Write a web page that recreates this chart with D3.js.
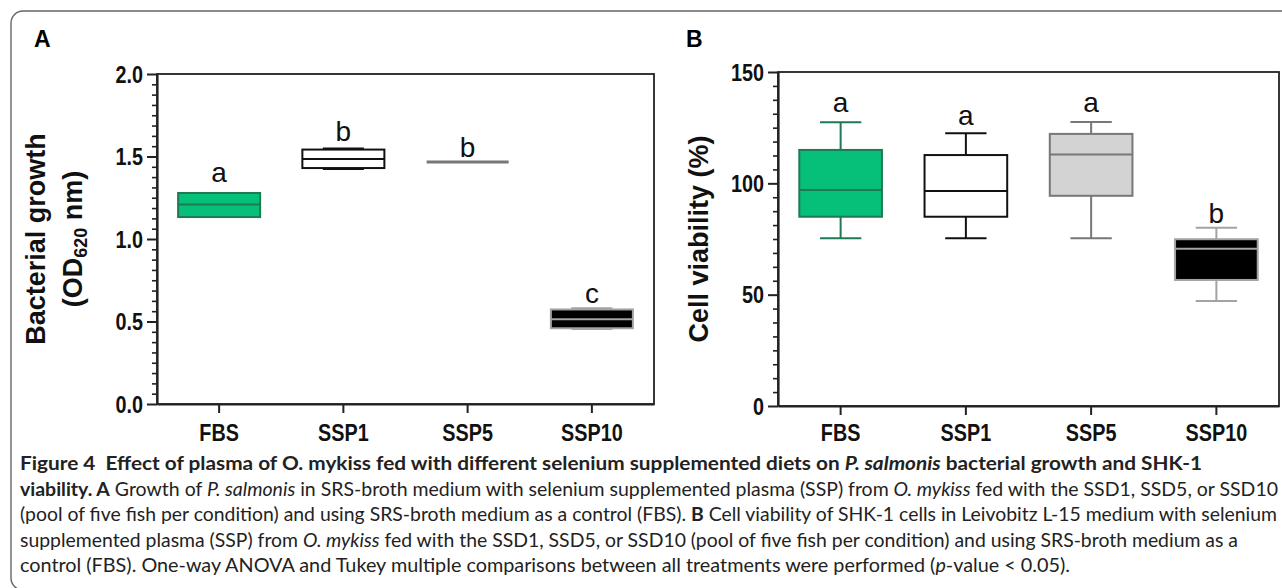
<!DOCTYPE html>
<html>
<head>
<meta charset="utf-8">
<script src="https://d3js.org/d3.v7.min.js"></script>
<style>
  body { margin: 0; background: #fff; }
  svg { display: block; }
  .tick text { font-family: "Liberation Sans", Arial, sans-serif; font-weight: bold; font-size: 23px; fill: #111; }
  .cap { font-family: Lato, "Open Sans", sans-serif; font-size: 19px; fill: #222; white-space: pre; }
</style>
</head>
<body>
<div id="fig"></div>
<script>
// groups on the x axis, same for both panels
var categories = ["FBS", "SSP1", "SSP5", "SSP10"];

// panel A - bacterial growth, OD620
var growthTicks = [0, 0.5, 1.0, 1.5, 2.0];
var growthMin = [1.133, 1.425, 1.467, 0.455];
var growthQ1  = [1.133, 1.430, 1.467, 0.459];
var growthMed = [1.209, 1.485, 1.467, 0.513];
var growthQ3  = [1.279, 1.542, 1.467, 0.573];
var growthMax = [1.279, 1.548, 1.467, 0.580];
var growthLetters  = ["a", "b", "b", "c"];
var growthLetterAt = [1.345, 1.594, 1.497, 0.612];

// panel B - cell viability %
var viabTicks = [0, 50, 100, 150];
var viabMin = [75.3, 75.3, 75.3, 47.2];
var viabQ1  = [85.0, 85.0, 94.4, 56.6];
var viabMed = [97.0, 96.6, 113.0, 70.6];
var viabQ3  = [115.0, 112.7, 122.2, 74.9];
var viabMax = [127.4, 122.5, 127.5, 80.1];
var viabLetters  = ["a", "a", "a", "b"];
var viabLetterAt = [132.0, 126.2, 132.2, 82.3];

var fills   = ["#06bf78", "#ffffff", "#d3d3d3", "#000000"];
var strokes = ["#1d7a52", "#111111", "#777777", "#a3a3a3"];

// the axis font in the original is a narrow bold, squeeze the regular one
var narrow = 0.86;

var W = 1282, H = 588;
var svg = d3.select("#fig").append("svg").attr("width", W).attr("height", H);

// rounded frame around the whole figure
svg.append("rect")
  .attr("x", 11).attr("y", 11).attr("width", 1320).attr("height", 579)
  .attr("rx", 12).style("fill", "none").style("stroke", "#666").style("stroke-width", 1.4);

function drawPanel(p) {
  var g = svg.append("g");
  var x = d3.scaleBand().domain(categories).range([p.x0, p.x1]).padding(0);
  var y = d3.scaleLinear().domain(p.domain).range([p.yBot, p.yTop]);
  var bw = x.bandwidth() * 0.66;

  // frame of the plot
  g.append("rect")
    .attr("x", p.x0).attr("y", p.yTop).attr("width", p.x1 - p.x0).attr("height", p.yBot - p.yTop)
    .style("fill", "none").style("stroke", "#222").style("stroke-width", 1.8);

  // minor ticks, 8 per major step
  var minor = d3.range(p.domain[0], p.domain[1] + 1e-9, p.minor)
    .filter(function(v) { return p.ticks.indexOf(+v.toFixed(4)) < 0; });
  g.append("g").attr("transform", "translate(" + p.x0 + ",0)")
    .call(d3.axisLeft(y).tickValues(minor).tickSize(5).tickFormat(""))
    .call(function(a) { a.select(".domain").remove(); a.selectAll("line").style("stroke", "#222").style("stroke-width", 1.6); });

  g.append("g").attr("transform", "translate(" + p.x0 + ",0)")
    .call(d3.axisLeft(y).tickValues(p.ticks).tickSize(10).tickSizeOuter(0).tickPadding(4).tickFormat(p.fmt))
    .call(function(a) {
      a.select(".domain").style("stroke", "#222").style("stroke-width", 2.2);
      a.selectAll("line").style("stroke", "#222").style("stroke-width", 2);
      a.selectAll("text").attr("dy", "0.36em").attr("x", -14 / narrow)
        .attr("transform", "scale(" + narrow + ",1)");
    });

  g.append("g").attr("transform", "translate(0," + p.yBot + ")")
    .call(d3.axisBottom(x).tickSize(9).tickSizeOuter(0).tickPadding(441 - p.yBot - 9 - 16.5))
    .call(function(a) {
      a.select(".domain").style("stroke", "#222").style("stroke-width", 2.2);
      a.selectAll("line").style("stroke", "#222").style("stroke-width", 2);
      a.selectAll("text").attr("transform", "scale(" + narrow + ",1)");
    });

  // the boxes
  categories.forEach(function(c, i) {
    var cx = x(c) + x.bandwidth() / 2;
    var col = strokes[i];
    var box = g.append("g");
    box.append("line").attr("x1", cx).attr("x2", cx).attr("y1", y(p.max[i])).attr("y2", y(p.q3[i]))
      .style("stroke", col).style("stroke-width", 2);
    box.append("line").attr("x1", cx).attr("x2", cx).attr("y1", y(p.q1[i])).attr("y2", y(p.min[i]))
      .style("stroke", col).style("stroke-width", 2);
    [p.max[i], p.min[i]].forEach(function(v) {
      box.append("line").attr("x1", cx - bw / 4).attr("x2", cx + bw / 4).attr("y1", y(v)).attr("y2", y(v))
        .style("stroke", col).style("stroke-width", 2);
    });
    if (p.q3[i] > p.q1[i]) {
      box.append("rect").attr("x", cx - bw / 2).attr("width", bw)
        .attr("y", y(p.q3[i])).attr("height", y(p.q1[i]) - y(p.q3[i]))
        .style("fill", fills[i]).style("stroke", col).style("stroke-width", 2);
    }
    box.append("line").attr("x1", cx - bw / 2).attr("x2", cx + bw / 2).attr("y1", y(p.med[i])).attr("y2", y(p.med[i]))
      .style("stroke", col).style("stroke-width", p.q3[i] > p.q1[i] ? 2 : 3);

    g.append("text").attr("x", cx).attr("y", y(p.letterAt[i]))
      .attr("text-anchor", "middle")
      .style("font-family", "Liberation Sans, Arial, sans-serif").style("font-size", "28px").style("fill", "#111")
      .text(p.letters[i]);
  });

  // panel letter
  g.append("text").attr("x", p.labelX).attr("y", 47)
    .style("font-family", "Liberation Sans, Arial, sans-serif").style("font-weight", "bold").style("font-size", "23px")
    .text(p.label);

  // y axis title (one or two lines)
  var cy = (p.yTop + p.yBot) / 2;
  p.title.forEach(function(line, k) {
    var t = g.append("text")
      .attr("transform", "translate(" + p.titleX[k] + "," + cy + ") rotate(-90)")
      .attr("text-anchor", "middle")
      .style("font-family", "Liberation Sans, Arial, sans-serif").style("font-weight", "bold").style("font-size", "27px")
      .style("fill", "#111");
    line.forEach(function(seg) {
      var s = t.append("tspan").text(seg[0]);
      if (seg[1] == "sub") s.attr("dy", "0.3em").style("font-size", "18px");
      if (seg[1] == "back") s.attr("dy", "-0.2em");
    });
  });
}

drawPanel({
  x0: 157, x1: 654, yTop: 74, yBot: 404,
  domain: [0, 2], ticks: growthTicks, minor: 0.0625, fmt: d3.format(".1f"),
  min: growthMin, q1: growthQ1, med: growthMed, q3: growthQ3, max: growthMax,
  letters: growthLetters, letterAt: growthLetterAt,
  label: "A", labelX: 34,
  title: [[["Bacterial growth", ""]], [["(OD", ""], ["620", "sub"], [" nm)", "back"]]],
  titleX: [45, 82]
});

drawPanel({
  x0: 778, x1: 1279, yTop: 72, yBot: 406,
  domain: [0, 150], ticks: viabTicks, minor: 6.25, fmt: d3.format("d"),
  min: viabMin, q1: viabQ1, med: viabMed, q3: viabQ3, max: viabMax,
  letters: viabLetters, letterAt: viabLetterAt,
  label: "B", labelX: 686,
  title: [[["Cell viability (%)", ""]]],
  titleX: [708]
});

// caption below the figure
var caption = [
  [["Figure 4  Effect of plasma of O. mykiss fed with different selenium supplemented diets on ", "b"], ["P. salmonis", "bi"], [" bacterial growth and SHK-1", "b"]],
  [["viability. A", "b"], [" Growth of ", ""], ["P. salmonis", "i"], [" in SRS-broth medium with selenium supplemented plasma (SSP) from ", ""], ["O. mykiss", "i"], [" fed with the SSD1, SSD5, or SSD10", ""]],
  [["(pool of five fish per condition) and using SRS-broth medium as a control (FBS). ", ""], ["B", "b"], [" Cell viability of SHK-1 cells in Leivobitz L-15 medium with selenium", ""]],
  [["supplemented plasma (SSP) from ", ""], ["O. mykiss", "i"], [" fed with the SSD1, SSD5, or SSD10 (pool of five fish per condition) and using SRS-broth medium as a", ""]],
  [["control (FBS). One-way ANOVA and Tukey multiple comparisons between all treatments were performed (", ""], ["p", "i"], ["-value < 0.05).", ""]]
];
var captionWidths = [1182, 1258, 1257, 1218, 1050];

caption.forEach(function(line, i) {
  var t = svg.append("text").attr("class", "cap")
    .attr("x", 20).attr("y", 470 + i * 25.5)
    .attr("textLength", captionWidths[i]).attr("lengthAdjust", "spacingAndGlyphs");
  line.forEach(function(seg) {
    var s = t.append("tspan").text(seg[0]);
    if (seg[1].indexOf("b") >= 0) s.style("font-weight", "bold");
    if (seg[1].indexOf("i") >= 0) s.style("font-style", "italic");
  });
});
</script>
</body>
</html>
